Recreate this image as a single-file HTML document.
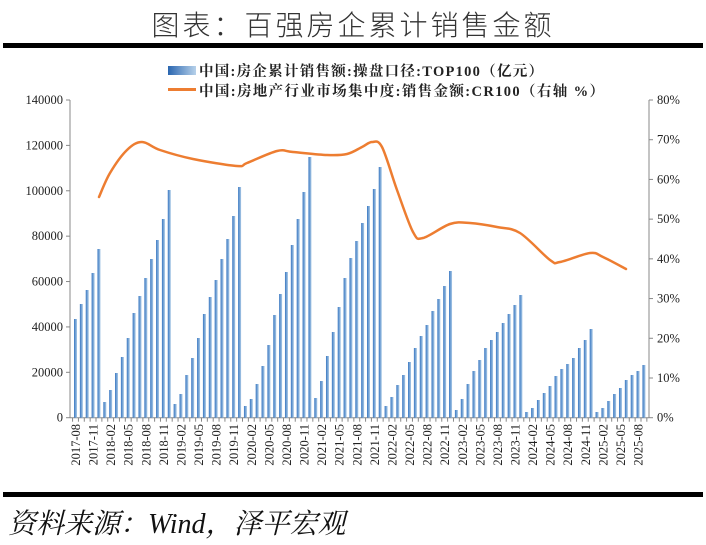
<!DOCTYPE html>
<html><head><meta charset="utf-8">
<style>
body{margin:0;background:#fff;width:706px;height:545px;overflow:hidden;}
svg{display:block}
</style></head>
<body>
<svg id="s" width="706" height="545" xmlns="http://www.w3.org/2000/svg" font-family="Liberation Serif, Noto Serif CJK SC, serif">
<text x="353" y="35" text-anchor="middle" font-size="28" fill="#333" font-family="Liberation Sans, Noto Sans CJK SC, sans-serif" font-weight="300" letter-spacing="3">图表：百强房企累计销售金额</text>
<rect x="3" y="43" width="700" height="5" fill="#000"/>
<rect x="3" y="492" width="700" height="5" fill="#000"/>
<text x="8" y="533" font-size="28" font-style="italic" fill="#111" font-family="Liberation Serif, Noto Serif CJK SC, serif">资料来源：Wind，泽平宏观</text>
<defs><linearGradient id="g" x1="0" x2="1"><stop offset="0" stop-color="#3a78c2"/><stop offset="1" stop-color="#a9c9e6"/></linearGradient>
<linearGradient id="lg" x1="0" x2="1"><stop offset="0" stop-color="#2a66b0"/><stop offset="1" stop-color="#b7d1ea"/></linearGradient></defs>
<rect x="168" y="66" width="28" height="9" fill="url(#lg)"/>
<text x="199" y="76" font-size="14.5" font-weight="bold" fill="#222" textLength="344" lengthAdjust="spacing">中国:房企累计销售额:操盘口径:TOP100（亿元）</text>
<rect x="168" y="88" width="28" height="3" fill="#ed7d31"/>
<text x="199" y="96" font-size="14.5" font-weight="bold" fill="#222" textLength="405" lengthAdjust="spacing">中国:房地产行业市场集中度:销售金额:CR100（右轴 %）</text>
<g id="axes" stroke="#888" stroke-width="1" fill="none"></g>
<g id="bars"></g>
<g id="lbl" font-size="12.5" fill="#222"></g>
<path id="ln" fill="none" stroke="#ed7d31" stroke-width="2.5" stroke-linejoin="round" stroke-linecap="round"/>
</svg>
<script>
var NS="http://www.w3.org/2000/svg";
function el(t,a,p,txt){var e=document.createElementNS(NS,t);for(var k in a)e.setAttribute(k,a[k]);if(txt!=null)e.textContent=txt;document.getElementById(p).appendChild(e);return e;}
var y0=417.7,yt=100,xl=70,xr=649;
el('line',{x1:xl,y1:yt,x2:xl,y2:y0},'axes');
el('line',{x1:xr,y1:yt,x2:xr,y2:y0},'axes');
el('line',{x1:xl,y1:y0,x2:xr,y2:y0},'axes');
for(var i=0;i<=7;i++){var y=y0-(y0-yt)*i/7;
 el('line',{x1:xl-4,y1:y,x2:xl,y2:y},'axes');
 el('text',{x:xl-7,y:y+4,'text-anchor':'end'},'lbl',String(i*20000));}
for(var i=0;i<=8;i++){var y=y0-(y0-yt)*i/8;
 el('line',{x1:xr,y1:y,x2:xr+4,y2:y},'axes');
 el('text',{x:xr+8,y:y+4},'lbl',(i*10)+'%');}
var tops=[319,304,290,273,249,
402,390,373,357,338,313,296,278,259,240,219,190,
404,394,375,358,338,314,297,280,259,239,216,187,
406,399,384,366,345,315,294,272,245,219,192,157,
398,381,356,332,307,278,258,241,223,206,189,167,
406,397,385,375,362,348,336,325,311,299,286,271,
410,399,384,371,360,348,340,332,323,314,305,295,
412,408,400,393,386,376,369,364,358,348,340,329,
412,408,401,394,388,380,375,371,365];
var sp=5.86,x0=75.5;
for(var i=0;i<tops.length;i++){var x=x0+i*sp;
 el('rect',{x:x-1.5,y:tops[i],width:3,height:y0-tops[i],fill:'url(#g)'},'bars');}
for(var i=0;i<=tops.length;i++){var x=x0+i*sp-sp/2;el('line',{x1:x,y1:y0,x2:x,y2:y0+4},'axes');}
for(var i=0;i<97;i+=3){var m=7+i;var yr=2017+Math.floor(m/12);var mo=m%12+1;
 var x=x0+i*sp;el('text',{x:0,y:0,transform:'translate('+(x+4.5)+',424) rotate(-90)','text-anchor':'end','font-size':'12.5'},'lbl',yr+'-'+(mo<10?'0':'')+mo);}
var P=[[99,197],[110,173],[127,150],[142,142],[160,150],[193,159],[237,166],[247,163],[277,151],[293,152],[327,155],[347,154],[362,147],[372,142],[382,147],[397,190],[413,232],[423,238],[450,224],[470,223],[497,227],[520,233],[550,260],[560,262],[590,253],[603,257],[626,269]];
var d='M'+P[0][0]+','+P[0][1];
for(var i=0;i<P.length-1;i++){var p0=P[Math.max(0,i-1)],p1=P[i],p2=P[i+1],p3=P[Math.min(P.length-1,i+2)];
 var c1=[p1[0]+(p2[0]-p0[0])/6,p1[1]+(p2[1]-p0[1])/6],c2=[p2[0]-(p3[0]-p1[0])/6,p2[1]-(p3[1]-p1[1])/6];
 d+=' C'+c1.join(',')+' '+c2.join(',')+' '+p2.join(',');}
document.getElementById('ln').setAttribute('d',d);
</script>
</body></html>
